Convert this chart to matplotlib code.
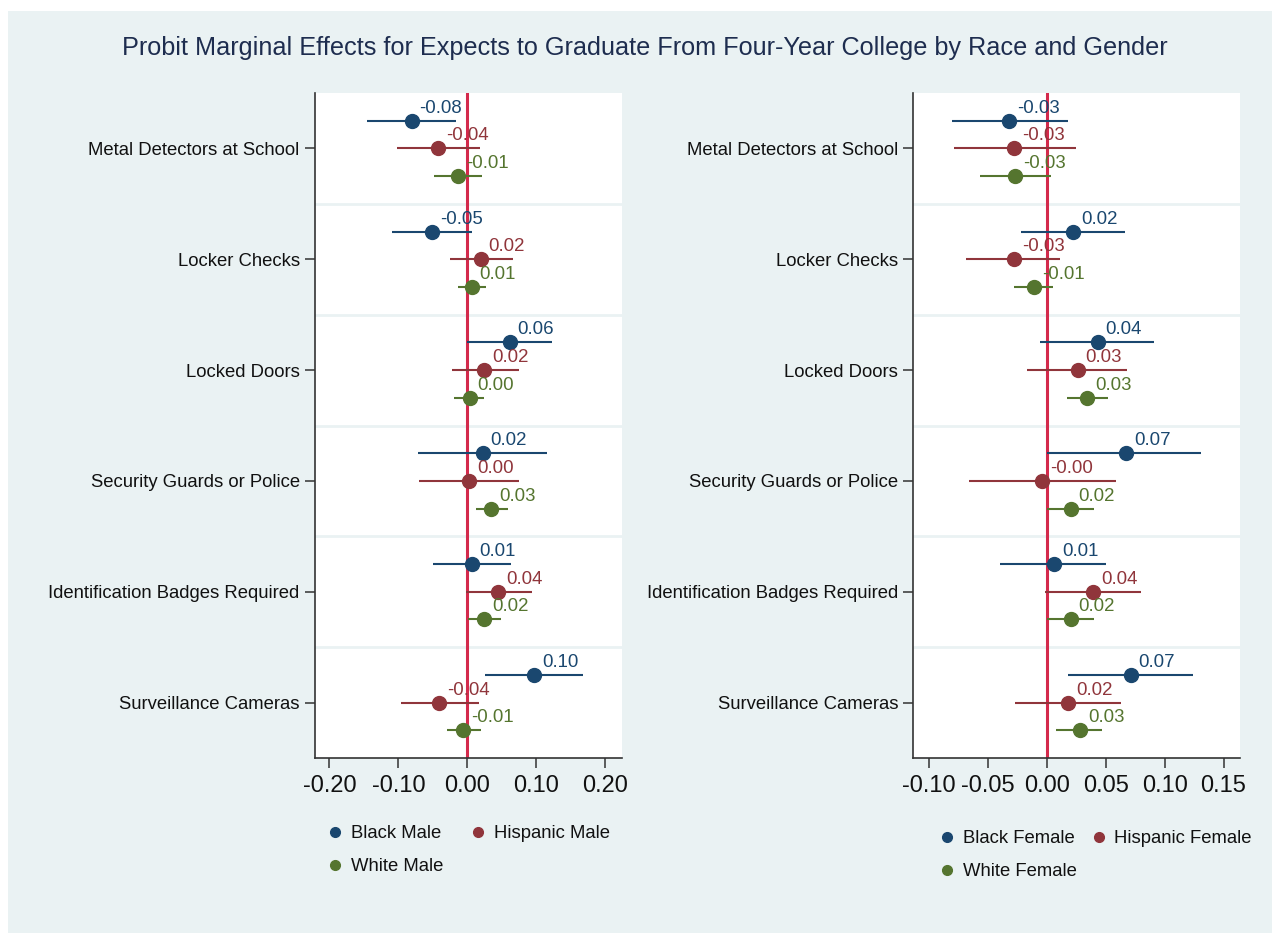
import matplotlib
matplotlib.use("Agg")
import matplotlib.pyplot as plt
from matplotlib.patches import Rectangle
from matplotlib.lines import Line2D

plt.rcParams['font.family'] = ['Liberation Sans', 'DejaVu Sans']

categories = ["Metal Detectors at School", "Locker Checks", "Locked Doors",
              "Security Guards or Police", "Identification Badges Required",
              "Surveillance Cameras"]

# Male estimates: point, lower CI, upper CI
black_male = [-0.081, -0.051, 0.061, 0.022, 0.006, 0.097]
black_male_lo = [-0.145, -0.109, 0.000, -0.072, -0.050, 0.025]
black_male_hi = [-0.016, 0.007, 0.122, 0.116, 0.063, 0.168]
hisp_male = [-0.042, 0.019, 0.024, 0.002, 0.044, -0.041]
hisp_male_lo = [-0.102, -0.026, -0.023, -0.070, -0.002, -0.097]
hisp_male_hi = [0.018, 0.066, 0.075, 0.075, 0.093, 0.017]
white_male = [-0.014, 0.006, 0.003, 0.034, 0.024, -0.006]
white_male_lo = [-0.049, -0.013, -0.019, 0.012, 0.001, -0.030]
white_male_hi = [0.021, 0.027, 0.024, 0.059, 0.049, 0.020]

# Female estimates: point, lower CI, upper CI
black_female = [-0.032, 0.022, 0.043, 0.067, 0.006, 0.071]
black_female_lo = [-0.081, -0.022, -0.006, 0.000, -0.040, 0.018]
black_female_hi = [0.018, 0.066, 0.091, 0.131, 0.050, 0.124]
hisp_female = [-0.028, -0.028, 0.026, -0.004, 0.039, 0.018]
hisp_female_lo = [-0.079, -0.069, -0.017, -0.066, -0.002, -0.027]
hisp_female_hi = [0.025, 0.011, 0.068, 0.059, 0.080, 0.063]
white_female = [-0.027, -0.011, 0.034, 0.020, 0.020, 0.028]
white_female_lo = [-0.057, -0.028, 0.017, 0.000, 0.000, 0.008]
white_female_hi = [0.003, 0.005, 0.052, 0.040, 0.040, 0.047]

male_ticks = [-0.20, -0.10, 0.00, 0.10, 0.20]
female_ticks = [-0.10, -0.05, 0.00, 0.05, 0.10, 0.15]

NAVY = "#1a476f"
MAROON = "#90353b"
GREEN = "#55752f"
BG = "#eaf2f3"
ZERO = "#d42a4c"

W, H = 1272, 933
fig = plt.figure(figsize=(W / 100, H / 100), dpi=100)
fig.patch.set_facecolor("white")
fig.add_artist(Rectangle((8 / W, 0), 1 - 8 / W, 1 - 11 / H, transform=fig.transFigure,
                         facecolor=BG, edgecolor="none", zorder=-10))


def panel(rect, xlim, ticks, series, names, legend_anchor, legend_colspace):
    ax = fig.add_axes(rect)
    ax.set_facecolor("white")
    n = len(categories)
    ypos = list(range(n))
    offsets = [-0.25, 0.0, 0.25]
    # band separators
    for b in range(1, n):
        ax.axhline(b - 0.5, color=BG, lw=2.0, zorder=1)
    ax.axvline(0, color=ZERO, lw=2.2, zorder=2)
    handles = []
    for (pt, lo, hi, col), off, name in zip(series, offsets, names):
        ys = [y + off for y in ypos]
        ax.hlines(ys, lo, hi, color=col, lw=1.5, zorder=3)
        ax.plot(pt, ys, 'o', color=col, ms=10, zorder=4, ls='none')
        for x, y in zip(pt, ys):
            ax.annotate(f"{x:.2f}", (x, y), xytext=(8, 4), textcoords='offset pixels',
                        color=col, fontsize=13.4, ha='left', va='bottom', zorder=5)
        handles.append(Line2D([], [], marker='o', ls='none', color=col, ms=7, label=name))
    ax.set_ylim(n - 0.5, -0.5)
    ax.set_xlim(*xlim)
    ax.set_yticks(ypos)
    ax.set_yticklabels(categories, fontsize=13.3, color="#111111")
    ax.set_xticks(ticks)
    ax.set_xticklabels([f"{t:.2f}" for t in ticks], fontsize=17, color="#111111")
    ax.tick_params(axis='both', direction='out', length=7, width=1.1, color="#333333")
    ax.tick_params(axis='x', pad=5)
    ax.tick_params(axis='y', pad=4)
    for s in ("top", "right"):
        ax.spines[s].set_visible(False)
    for s in ("left", "bottom"):
        ax.spines[s].set_color("#333333")
        ax.spines[s].set_linewidth(1.2)
    order = [handles[0], handles[2], handles[1]]
    leg = fig.legend(handles=order, ncol=2, loc='upper left',
                     bbox_to_anchor=(legend_anchor[0] / W, 1 - legend_anchor[1] / H),
                     frameon=False, fontsize=13.3, handletextpad=0.35,
                     columnspacing=legend_colspace, handlelength=1.0,
                     labelspacing=0.87, borderaxespad=0, borderpad=0)
    for t in leg.get_texts():
        t.set_color("#111111")
    return ax


panel([315 / W, 1 - 758 / H, (622 - 315) / W, (758 - 93) / H], (-0.221, 0.224), male_ticks,
      [(black_male, black_male_lo, black_male_hi, NAVY),
       (hisp_male, hisp_male_lo, hisp_male_hi, MAROON),
       (white_male, white_male_lo, white_male_hi, GREEN)],
      ["Black Male", "Hispanic Male", "White Male"], (326, 825), 1.38)

panel([913.3 / W, 1 - 758 / H, (1240 - 913.3) / W, (758 - 93) / H], (-0.1136, 0.164), female_ticks,
      [(black_female, black_female_lo, black_female_hi, NAVY),
       (hisp_female, hisp_female_lo, hisp_female_hi, MAROON),
       (white_female, white_female_lo, white_female_hi, GREEN)],
      ["Black Female", "Hispanic Female", "White Female"], (938, 830), 0.68)

fig.text(645 / W, 1 - 48 / H,
         "Probit Marginal Effects for Expects to Graduate From Four-Year College by Race and Gender",
         ha='center', va='center', fontsize=18.2, color="#1e2d4f")

fig.savefig("out.png", dpi=100, facecolor=fig.get_facecolor())
